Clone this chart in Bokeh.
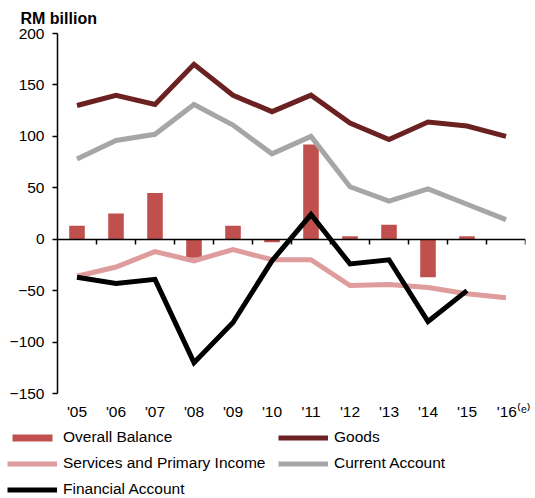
import math
from bokeh.plotting import figure
from bokeh.layouts import column
from bokeh.models import (ColumnDataSource, FixedTicker, LinearAxis, Legend,
                          LegendItem, Range1d)
from bokeh.embed import file_html
from bokeh.resources import INLINE

# ---------------- data ----------------
years = ["'05", "'06", "'07", "'08", "'09", "'10", "'11", "'12", "'13", "'14", "'15", "'16"]
estimate_note = "\u207d\u1d49\u207e"   # superscript "(e)"
overall_balance = [13, 25, 45, -18, 13, -3, 92, 3, 14, -37, 3, math.nan]
goods = [130, 140, 131, 170, 140, 124, 140, 113, 97, 114, 110, 100]
services_primary = [-36, -27, -12, -21, -10, -20, -20, -45, -44, -47, -53, -57]
current_account = [78, 96, 102, 131, 111, 83, 100, 51, 37, 49, 34, 19]
financial_account = [-37, -43, -39, -120, -81, -21, 24, -24, -20, -80, -50, math.nan]
y_ticks = [-150, -100, -50, 0, 50, 100, 150, 200]

FONT = "Liberation Sans"
FS = "15.5px"

COL_OB = "#C0504D"
COL_GOODS = "#6B2121"
COL_SERV = "#DE9C9C"
COL_CUR = "#A6A6A6"
COL_FIN = "black"

xpos = [i + 0.5 for i in range(len(years))]
bounds = [i + 1 for i in range(len(years))]
labels = list(years)
labels[-1] = "\u2002\u2002" + years[-1] + estimate_note

src = ColumnDataSource(dict(x=xpos, ob=overall_balance, goods=goods,
                            serv=services_primary, cur=current_account,
                            fin=financial_account))

p = figure(width=535, height=426, output_backend="svg", toolbar_location=None,
           x_range=Range1d(0, len(years)), y_range=Range1d(y_ticks[0], y_ticks[-1]),
           min_border_left=57, min_border_right=10, min_border_top=32,
           min_border_bottom=33, x_axis_type=None, y_axis_type=None)
p.outline_line_color = None
p.grid.visible = False
p.background_fill_color = "white"

p.title.text = "RM billion"
p.title.text_font = FONT
p.title.text_font_size = "16px"
p.title.text_font_style = "bold"
p.title.text_color = "black"
p.title.align = "left"
p.title.offset = -37
p.title.standoff = 14

# zero line axis with ticks at category boundaries
zero_axis = LinearAxis(fixed_location=0, ticker=FixedTicker(ticks=bounds),
                       major_tick_out=5, major_tick_in=0, minor_tick_out=0,
                       minor_tick_in=0,
                       major_label_overrides={b: "" for b in bounds},
                       major_label_standoff=0, axis_line_width=1.5,
                       major_tick_line_width=1.5, axis_line_color="black",
                       major_tick_line_color="black")
p.add_layout(zero_axis, "below")

# category labels axis
lab_axis = LinearAxis(ticker=FixedTicker(ticks=xpos),
                      major_label_overrides={x: t for x, t in zip(xpos, labels)},
                      axis_line_color=None, major_tick_line_color=None,
                      minor_tick_line_color=None, major_label_standoff=3,
                      major_label_text_font=FONT, major_label_text_font_size=FS,
                      major_label_text_color="black")
p.add_layout(lab_axis, "below")

yaxis = LinearAxis(ticker=FixedTicker(ticks=y_ticks), major_tick_out=5,
                   major_tick_in=0, minor_tick_line_color=None,
                   axis_line_width=1.5, major_tick_line_width=1.5,
                   major_label_standoff=8, major_label_text_font=FONT,
                   major_label_text_font_size=FS, major_label_text_color="black")
p.add_layout(yaxis, "left")

p.vbar(x="x", top="ob", bottom=0, width=0.4, source=src,
       fill_color=COL_OB, line_color=None)
p.line("x", "cur", source=src, line_color=COL_CUR, line_width=5, line_join="miter")
p.line("x", "goods", source=src, line_color=COL_GOODS, line_width=5, line_join="miter")
p.line("x", "serv", source=src, line_color=COL_SERV, line_width=5, line_join="miter")
p.line("x", "fin", source=src, line_color=COL_FIN, line_width=5, line_join="miter")

# ---------------- legend strip ----------------
# its x range lies to the left of all data, so only the legend shows
lg = figure(width=535, height=72, output_backend="svg", toolbar_location=None,
            x_range=Range1d(-len(years), 0), y_range=Range1d(y_ticks[0], y_ticks[-1]),
            min_border_left=0, min_border_right=0, min_border_top=0,
            min_border_bottom=0, x_axis_type=None, y_axis_type=None)
lg.outline_line_color = None
lg.grid.visible = False
lg.frame_align = False

l_ob = lg.vbar(x="x", top="ob", width=0.4, source=src, fill_color=COL_OB, line_color=None)
l_goods = lg.line("x", "goods", source=src, line_color=COL_GOODS, line_width=5)
l_serv = lg.line("x", "serv", source=src, line_color=COL_SERV, line_width=5)
l_cur = lg.line("x", "cur", source=src, line_color=COL_CUR, line_width=5)
l_fin = lg.line("x", "fin", source=src, line_color=COL_FIN, line_width=5)

# items listed column by column (left column first) so rows read
# Overall Balance | Goods ; Services and Primary Income | Current Account ; Financial Account
legend = Legend(items=[
    LegendItem(label="Overall Balance", renderers=[l_ob]),
    LegendItem(label="Services and Primary Income", renderers=[l_serv]),
    LegendItem(label="Financial Account", renderers=[l_fin]),
    LegendItem(label="Goods", renderers=[l_goods]),
    LegendItem(label="Current Account", renderers=[l_cur]),
], ncols=2, location=(7, 0), glyph_width=50, glyph_height=9,
    label_height=18, label_width=207, spacing=8, label_standoff=6,
    padding=0, margin=0, border_line_color=None, background_fill_alpha=0,
    label_text_font=FONT, label_text_font_size=FS, label_text_color="black")
lg.add_layout(legend, "center")

layout = column(p, lg, spacing=0)
open("out.html", "w").write(file_html(layout, INLINE))
